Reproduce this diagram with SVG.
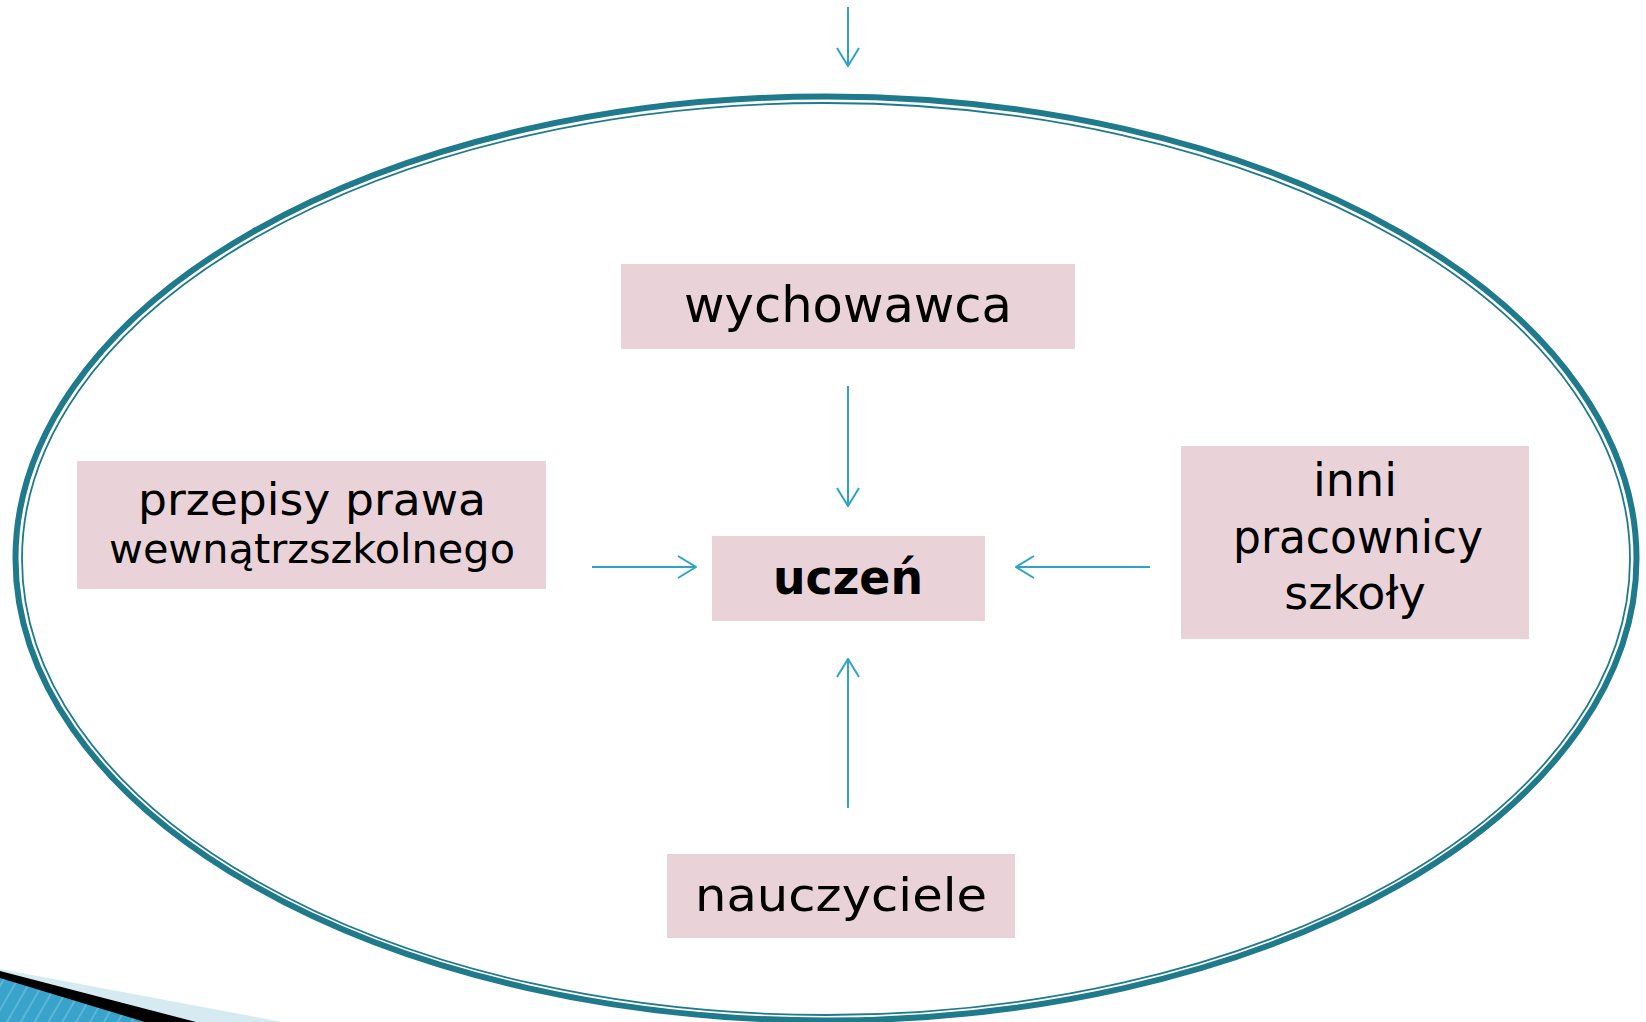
<svg xmlns="http://www.w3.org/2000/svg" width="1646" height="1022" viewBox="0 0 1646 1022">
<style>
.box{fill:#e9d3d9}
.t{font-family:"DejaVu Sans","Liberation Sans",sans-serif;fill:#000;text-anchor:middle}
.c{stroke:#2fa3c4;stroke-width:2;fill:none}
</style>
<defs>
<marker id="ah" viewBox="0 0 20 24" refX="19" refY="12" markerWidth="20" markerHeight="24" markerUnits="userSpaceOnUse" orient="auto">
<path d="M1,1 L19,12 L1,23" fill="none" stroke="#2fa3c4" stroke-width="2"/>
</marker>
<pattern id="stripes" width="12" height="12" patternUnits="userSpaceOnUse" patternTransform="rotate(30)">
<rect width="12" height="12" fill="#3aa3cc"/>
<rect width="2" height="12" fill="#5bb6d8"/>
</pattern>
</defs>
<rect width="1646" height="1022" fill="#fff"/>
<g id="decor">
<polygon points="0,969 282,1022 0,1022" fill="#d6eaf1"/>
<polygon points="0,971 196,1022 0,1022" fill="#000"/>
<polygon points="0,978 145,1022 0,1022" fill="url(#stripes)"/>
</g>
<g id="ellipse">
<ellipse cx="826" cy="558.5" rx="810.5" ry="462" fill="none" stroke="#1f7a8c" stroke-width="6"/>
<ellipse cx="826" cy="559" rx="804" ry="456" fill="none" stroke="#1f7a8c" stroke-width="1.8"/>
</g>
<g id="connectors">
<line class="c" x1="848" y1="7" x2="848" y2="66" marker-end="url(#ah)"/>
<line class="c" x1="848" y1="386" x2="848" y2="506" marker-end="url(#ah)"/>
<line class="c" x1="592" y1="567" x2="696" y2="567" marker-end="url(#ah)"/>
<line class="c" x1="1150" y1="567" x2="1016" y2="567" marker-end="url(#ah)"/>
<line class="c" x1="848" y1="808" x2="848" y2="659" marker-end="url(#ah)"/>
</g>
<g id="wychowawca">
<rect class="box" x="621" y="264" width="454" height="85"/>
<text class="t" x="848" y="322" font-size="49" textLength="328" lengthAdjust="spacingAndGlyphs">wychowawca</text>
</g>
<g id="uczen">
<rect class="box" x="712" y="536" width="273" height="85"/>
<text class="t" x="848" y="594" font-size="48" font-weight="bold" textLength="150" lengthAdjust="spacingAndGlyphs">uczeń</text>
</g>
<g id="przepisy">
<rect class="box" x="77" y="461" width="469" height="128"/>
<text class="t" x="312" y="515" font-size="45" textLength="348" lengthAdjust="spacingAndGlyphs">przepisy prawa</text>
<text class="t" x="312" y="563" font-size="41" textLength="406" lengthAdjust="spacingAndGlyphs">wewnątrzszkolnego</text>
</g>
<g id="inni">
<rect class="box" x="1181" y="446" width="348" height="193"/>
<text class="t" x="1355" y="496" font-size="46">inni</text>
<text class="t" x="1358" y="553" font-size="46" textLength="250" lengthAdjust="spacingAndGlyphs">pracownicy</text>
<text class="t" x="1355" y="609" font-size="46">szkoły</text>
</g>
<g id="nauczyciele">
<rect class="box" x="667" y="854" width="348" height="84"/>
<text class="t" x="841" y="911" font-size="47" textLength="292" lengthAdjust="spacingAndGlyphs">nauczyciele</text>
</g>
</svg>
